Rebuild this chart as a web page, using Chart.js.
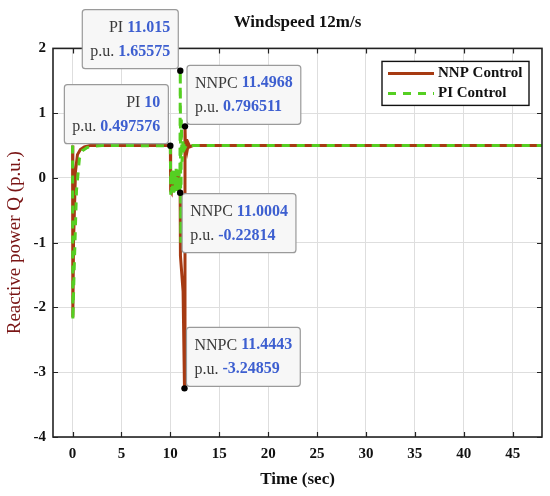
<!DOCTYPE html>
<html>
<head>
<meta charset="utf-8">
<script src="https://cdn.jsdelivr.net/npm/chart.js@4.4.0/dist/chart.umd.min.js"></script>
<style>
  html, body { margin: 0; padding: 0; background: #fff; }
  #wrap { width: 550px; height: 496px; }
</style>
</head>
<body>
<div id="wrap"><canvas id="chart"></canvas></div>
<script>
// NNP control response (time in s, Q in p.u.)
const nnpTime = [0, 0.03, 0.1, 0.3, 0.5, 0.8, 1.2, 1.8, 3, 10, 10.03, 10.1, 10.2, 10.3, 10.4, 10.5, 10.6, 10.7, 10.8, 10.9,
  11.0004, 11.03, 11.3, 11.4443, 11.4968, 11.56, 11.65, 11.75, 11.85, 12.0, 12.3, 13, 48];
const nnpQ = [0.5, -2.15, -1.0, 0.1, 0.36, 0.44, 0.48, 0.5, 0.5, 0.5, -0.2, -0.22, 0.05, -0.2, 0.08, -0.18, 0.06, -0.2, 0.1, -0.15,
  -0.22814, -1.2, -1.75, -3.24859, 0.796511, 0.35, 0.6, 0.45, 0.53, 0.48, 0.5, 0.5, 0.5];

// PI control response
const piTime = [0, 0.03, 0.15, 0.4, 0.7, 1.0, 1.5, 2.2, 3, 10, 10.04, 10.09, 10.14, 10.19, 10.24, 10.29, 10.34, 10.39, 10.44,
  10.49, 10.54, 10.59, 10.64, 10.69, 10.74, 10.79, 10.84, 10.89, 10.94, 10.98, 11.015, 11.07, 11.12, 11.2, 11.3, 11.45, 11.7, 12, 48];
const piQ = [0.5, -2.2, -1.5, -0.2, 0.3, 0.42, 0.47, 0.49, 0.5, 0.497576, -0.26, 0.12, -0.22, 0.14, -0.2, 0.1, -0.23, 0.13, -0.21,
  0.11, -0.22, 0.14, -0.2, 0.1, -0.23, 0.12, -0.21, 0.13, -0.22, 0.05, 1.65575, -1.0, 0.9, 0.25, 0.6, 0.45, 0.52, 0.5, 0.5];

const xTicks = [0, 5, 10, 15, 20, 25, 30, 35, 40, 45];
const yTicks = [-4, -3, -2, -1, 0, 1, 2];

// data tips
const tipSeries = ['PI', 'PI', 'NNPC', 'NNPC', 'NNPC'];
const tipTime = [11.015, 10, 11.4968, 11.0004, 11.4443];
const tipQ = [1.65575, 0.497576, 0.796511, -0.22814, -3.24859];

const serif = '"Liberation Serif", "DejaVu Serif", serif';
const nnpColor = '#a63a12';
const piColor = '#55cf22';

function pts(ts, qs) { return ts.map((t, i) => ({ x: t, y: qs[i] })); }

// where each tip box sits relative to its point: [horizontal, vertical]
const tipPlace = [['left', 'up'], ['left', 'up'], ['right', 'up'], ['right', 'down'], ['right', 'up']];

const decor = {
  id: 'decor',
  afterDraw(chart) {
    const { ctx, chartArea: a, scales: { x, y } } = chart;
    ctx.save();
    // inward ticks on all four sides
    ctx.strokeStyle = '#222';
    ctx.lineWidth = 1.2;
    ctx.beginPath();
    xTicks.forEach(v => {
      const px = Math.round(x.getPixelForValue(v)) + 0.5;
      ctx.moveTo(px, a.bottom); ctx.lineTo(px, a.bottom - 5);
      ctx.moveTo(px, a.top); ctx.lineTo(px, a.top + 5);
    });
    yTicks.forEach(v => {
      const py = Math.round(y.getPixelForValue(v)) + 0.5;
      ctx.moveTo(a.left, py); ctx.lineTo(a.left + 5, py);
      ctx.moveTo(a.right, py); ctx.lineTo(a.right - 5, py);
    });
    ctx.stroke();
    ctx.lineWidth = 1.6;
    ctx.strokeRect(a.left, a.top, a.right - a.left, a.bottom - a.top);

    // legend
    const lw = 147, lh = 44;
    const lx = a.right - 13 - lw, ly = a.top + 13;
    ctx.fillStyle = '#fff';
    ctx.fillRect(lx, ly, lw, lh);
    ctx.strokeStyle = '#111';
    ctx.lineWidth = 1.4;
    ctx.strokeRect(lx, ly, lw, lh);
    ctx.lineWidth = 3;
    ctx.strokeStyle = nnpColor;
    ctx.beginPath(); ctx.moveTo(lx + 6, ly + 12); ctx.lineTo(lx + 52, ly + 12); ctx.stroke();
    ctx.strokeStyle = piColor;
    ctx.setLineDash([8, 7]);
    ctx.beginPath(); ctx.moveTo(lx + 6, ly + 32); ctx.lineTo(lx + 52, ly + 32); ctx.stroke();
    ctx.setLineDash([]);
    ctx.fillStyle = '#111';
    ctx.font = 'bold 15px ' + serif;
    ctx.textBaseline = 'middle';
    ctx.textAlign = 'left';
    ctx.fillText('NNP Control', lx + 56, ly + 12);
    ctx.fillText('PI Control', lx + 56, ly + 32);

    // data tips
    tipTime.forEach((t, i) => {
      const px = x.getPixelForValue(t), py = y.getPixelForValue(tipQ[i]);
      const l1a = tipSeries[i] + ' ', l1b = String(t);
      const l2a = 'p.u. ', l2b = String(tipQ[i]);
      ctx.font = '16px ' + serif;
      const w1 = ctx.measureText(l1a).width, w2 = ctx.measureText(l2a).width;
      ctx.font = '600 16px ' + serif;
      const v1 = ctx.measureText(l1b).width, v2 = ctx.measureText(l2b).width;
      const tw = Math.max(w1 + v1, w2 + v2);
      const bw = tw + 16, bh = 59;
      const [hz, vt] = tipPlace[i];
      const bx = hz === 'left' ? px - 2 - bw : px + 2;
      const by = vt === 'up' ? py - 2 - bh : py + 1;
      ctx.fillStyle = '#f7f7f7';
      ctx.strokeStyle = '#9a9a9a';
      ctx.lineWidth = 1.2;
      ctx.beginPath();
      ctx.roundRect(bx, by, bw, bh, 3);
      ctx.fill(); ctx.stroke();
      const rows = [[l1a, l1b, w1, v1], [l2a, l2b, w2, v2]];
      rows.forEach((r, k) => {
        const ty = by + 18 + k * 24;
        const start = hz === 'left' ? bx + bw - 8 - (r[2] + r[3]) : bx + 8;
        ctx.textAlign = 'left';
        ctx.font = '16px ' + serif;
        ctx.fillStyle = '#3a3a3a';
        ctx.fillText(r[0], start, ty);
        ctx.font = '600 16px ' + serif;
        ctx.fillStyle = '#3d5fd0';
        ctx.fillText(r[1], start + r[2], ty);
      });
      ctx.fillStyle = '#000';
      ctx.beginPath(); ctx.arc(px, py, 3.2, 0, Math.PI * 2); ctx.fill();
    });
    ctx.restore();
  }
};

new Chart(document.getElementById('chart'), {
  type: 'line',
  data: {
    datasets: [{
      label: 'NNP Control',
      data: pts(nnpTime, nnpQ),
      borderColor: nnpColor,
      borderWidth: 3,
      pointRadius: 0,
      order: 2
    }, {
      label: 'PI Control',
      data: pts(piTime, piQ),
      borderColor: piColor,
      borderWidth: 3,
      borderDash: [8, 7],
      pointRadius: 0,
      order: 1
    }]
  },
  options: {
    responsive: true,
    maintainAspectRatio: false,
    animation: false,
    layout: { padding: { left: 0, right: 8, top: 0, bottom: 0 } },
    plugins: {
      legend: { display: false },
      tooltip: { enabled: false },
      title: {
        display: true,
        fullSize: false,
        text: 'Windspeed 12m/s',
        color: '#111',
        font: { family: serif, size: 17, weight: 'bold' },
        padding: { top: 12, bottom: 16 }
      }
    },
    scales: {
      x: {
        type: 'linear',
        min: -2,
        max: 48,
        afterBuildTicks: s => { s.ticks = xTicks.map(v => ({ value: v })); },
        afterFit: s => { s.height = 59; },
        grid: { color: '#dedede', lineWidth: 1, tickLength: 0 },
        border: { display: false },
        ticks: { color: '#111', font: { family: serif, size: 15, weight: 'bold' }, padding: 8 },
        title: {
          display: true,
          text: 'Time (sec)',
          color: '#111',
          font: { family: serif, size: 17, weight: 'bold' },
          padding: { top: 0, bottom: 6 }
        }
      },
      y: {
        min: -4,
        max: 2,
        afterBuildTicks: s => { s.ticks = yTicks.map(v => ({ value: v })); },
        afterFit: s => { s.width = 53; },
        grid: { color: '#dedede', lineWidth: 1, tickLength: 0 },
        border: { display: false },
        ticks: { color: '#111', font: { family: serif, size: 15, weight: 'bold' }, padding: 7 },
        title: {
          display: true,
          text: 'Reactive power Q (p.u.)',
          color: '#7a1515',
          font: { family: serif, size: 19, weight: 'normal' },
          padding: { top: 4, bottom: 4 }
        }
      }
    }
  },
  plugins: [decor]
});
</script>
</body>
</html>
